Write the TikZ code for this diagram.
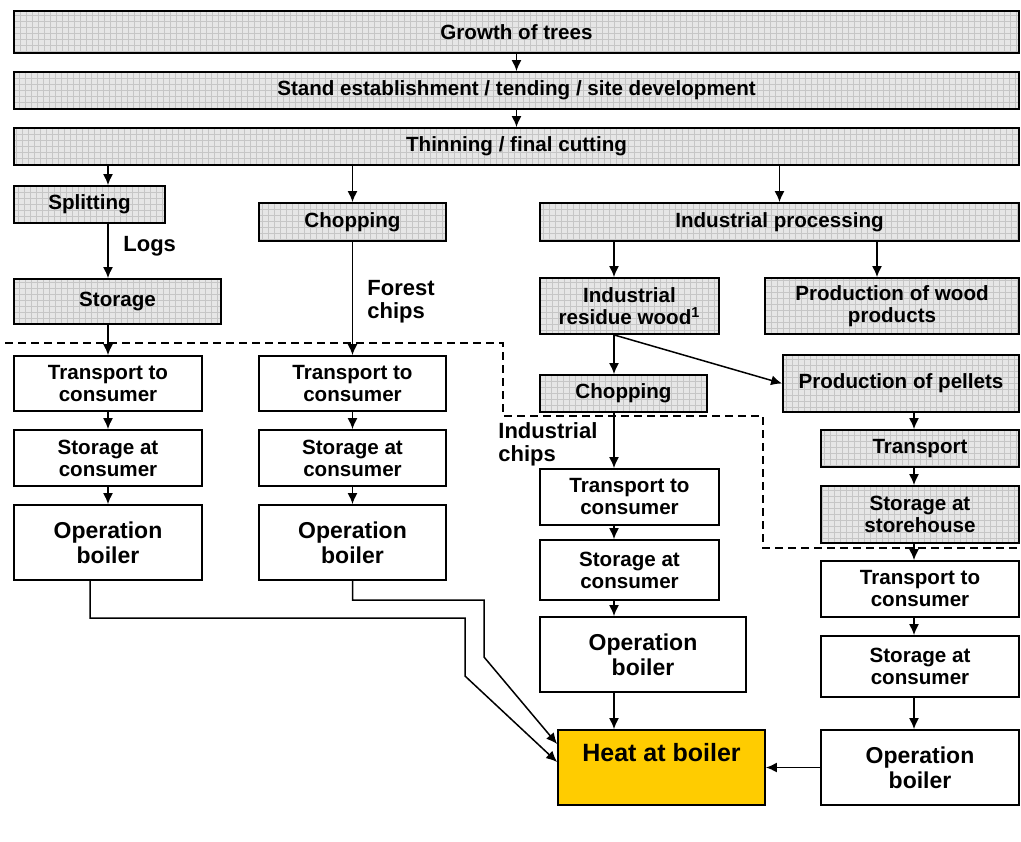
\documentclass[tikz,border=0pt]{standalone}
\usepackage{fontspec}
\setmainfont{Liberation Sans}
\usetikzlibrary{calc, arrows.meta}
\definecolor{heatgelb}{RGB}{255,204,0}
\definecolor{rastergrau}{RGB}{230,230,230}
\begin{document}
\begin{tikzpicture}[x=0.5pt, y=-0.5pt,
			>={Latex[length=5.5pt,width=5pt]},   % Pfeilspitzen
			font=\fontsize{10.3}{11}\selectfont\bfseries,
			wh/.style 2 args={minimum width=#1*0.5pt, minimum height=#2*0.5pt},
			gridbox/.style={draw, line width=0.9pt, fill=rastergrau, inner sep=1pt, align=center,
				path picture={\draw[gray!45, line width=0.25pt, step=3pt] (path picture bounding box.south west) grid (path picture bounding box.north east);}},
			whitebox/.style={draw, line width=0.9pt, fill=white, inner sep=1pt, align=center},
			opbox/.style={whitebox, font=\fontsize{11.5}{12.5}\selectfont\bfseries},
			heatbox/.style={draw, line width=0.9pt, fill=heatgelb, inner sep=1pt, text height=9pt, text depth=15.5pt,
				font=\fontsize{12.5}{14}\selectfont\bfseries},
			lbl/.style={anchor=west, align=left, inner sep=0pt, font=\fontsize{11}{11.5}\selectfont\bfseries},
			pfeil/.style={->, line width=0.75pt}]
			\useasboundingbox (0,0) rectangle (1021,841);
			% Hilfskoordinaten fuer die Pfeilspalten
			\coordinate (c3) at (614,0);
			\coordinate (cw) at (877,0);
			\coordinate (c4) at (914,0);
			% Hauptkette
			\node[gridbox, wh={1005}{42}] (growth) at (516.5,32) {Growth of trees};
			\node[gridbox, wh={1005}{37}] (stand) at (516.5,90.5) {Stand establishment / tending / site development};
			\node[gridbox, wh={1005}{37}] (thin) at (516.5,146.5) {Thinning / final cutting};
			% Spalte 1: Scheitholz
			\node[gridbox, wh={151}{37}] (split) at (89.5,204.5) {Splitting};
			\node[gridbox, wh={207}{45}] (storage) at (117.5,301.5) {Storage};
			\node[whitebox, wh={188}{55}] (tc1) at (108,383.5) {Transport to\\consumer};
			\node[whitebox, wh={188}{56}] (sc1) at (108,458) {Storage at\\consumer};
			\node[opbox, wh={188}{75}] (ob1) at (108,542.5) {Operation\\boiler};
			% Spalte 2: Waldhackschnitzel
			\node[gridbox, wh={187}{38}] (chop1) at (352.5,222) {Chopping};
			\node[whitebox, wh={187}{55}] (tc2) at (352.5,383.5) {Transport to\\consumer};
			\node[whitebox, wh={187}{56}] (sc2) at (352.5,458) {Storage at\\consumer};
			\node[opbox, wh={187}{75}] (ob2) at (352.5,542.5) {Operation\\boiler};
			% Spalte 3: Industrieholz
			\node[gridbox, wh={479}{38}] (indproc) at (779.5,222) {Industrial processing};
			\node[gridbox, wh={179}{56}] (residue) at (629.5,306) {Industrial\\residue wood\textsuperscript{1}};
			\node[gridbox, wh={254}{56}] (woodprod) at (892,306) {Production of wood\\products};
			\node[gridbox, wh={167}{37}] (chop2) at (623.5,393.5) {Chopping};
			\node[whitebox, wh={179}{56}] (tc3) at (629.5,497) {Transport to\\consumer};
			\node[whitebox, wh={179}{60}] (sc3) at (629.5,570) {Storage at\\consumer};
			\node[opbox, wh={206}{75}] (ob3) at (643,654.5) {Operation\\boiler};
			% Spalte 4: Pellets
			\node[gridbox, wh={236}{57}] (pellets) at (901,383.5) {Production of pellets};
			\node[gridbox, wh={198}{37}] (transp) at (920,448.5) {Transport};
			\node[gridbox, wh={198}{57}] (storeh) at (920,514.5) {Storage at\\storehouse};
			\node[whitebox, wh={198}{56}] (tc4) at (920,589) {Transport to\\consumer};
			\node[whitebox, wh={198}{61}] (sc4) at (920,666.5) {Storage at\\consumer};
			\node[opbox, wh={198}{75}] (ob4) at (920,767.5) {Operation\\boiler};
			% Ziel
			\node[heatbox, wh={207}{75}] (heat) at (661.5,767.5) {Heat at boiler};
			% Beschriftungen
			\node[lbl] (logs) at (123,246) {Logs};
			\node[lbl] (fchips) at (367,302) {Forest\\chips};
			\node[lbl] (ichips) at (498,444) {Industrial\\chips};
			% Systemgrenze
			\draw[dashed, line width=0.6pt, dash pattern=on 4pt off 2.5pt]
				(5,343) -- (503,343) -- (503,416) -- (763,416) -- (763,548) -- (1021,548);
			% Pfeile Hauptkette
			\draw[pfeil] (growth) -- (stand);
			\draw[pfeil] (stand) -- (thin);
			\draw[pfeil] (thin.south -| tc1) -- (split.north -| tc1);
			\draw[pfeil] (thin.south -| chop1) -- (chop1);
			\draw[pfeil] (thin.south -| indproc) -- (indproc);
			% Pfeile Spalte 1 und 2
			\draw[pfeil] (split.south -| tc1) -- (storage.north -| tc1);
			\draw[pfeil] (storage.south -| tc1) -- (tc1);
			\draw[pfeil] (tc1) -- (sc1);
			\draw[pfeil] (sc1) -- (ob1);
			\draw[pfeil] (chop1) -- (tc2);
			\draw[pfeil] (tc2) -- (sc2);
			\draw[pfeil] (sc2) -- (ob2);
			% Pfeile Spalte 3
			\draw[pfeil] (indproc.south -| c3) -- (residue.north -| c3);
			\draw[pfeil] (indproc.south -| cw) -- (woodprod.north -| cw);
			\draw[pfeil] (residue.south -| c3) -- (chop2.north -| c3);
			\draw[pfeil] (residue.south -| c3) -- (pellets.west);
			\draw[pfeil] (chop2.south -| c3) -- (tc3.north -| c3);
			\draw[pfeil] (tc3.south -| c3) -- (sc3.north -| c3);
			\draw[pfeil] (sc3.south -| c3) -- (ob3.north -| c3);
			\draw[pfeil] (ob3.south -| c3) -- (heat.north -| c3);
			% Pfeile Spalte 4
			\draw[pfeil] (pellets.south -| c4) -- (transp.north -| c4);
			\draw[pfeil] (transp.south -| c4) -- (storeh.north -| c4);
			\draw[pfeil] (storeh.south -| c4) -- (tc4.north -| c4);
			\draw[pfeil] (tc4.south -| c4) -- (sc4.north -| c4);
			\draw[pfeil] (sc4.south -| c4) -- (ob4.north -| c4);
			\draw[pfeil] (ob4.west) -- (heat.east);
			% Leitungen zum Kessel
			\coordinate (k1) at (465,618);
			\coordinate (k2) at (465,676);
			\coordinate (k3) at (484,600);
			\coordinate (k4) at (484,657);
			\draw[pfeil] ([xshift=-9pt]ob1.south) |- (k1) -- (k2) -- ([yshift=2.75pt]heat.west);
			\draw[pfeil] (ob2.south) |- (k3) -- (k4) -- ([yshift=11.75pt]heat.west);
		\end{tikzpicture}
\end{document}
